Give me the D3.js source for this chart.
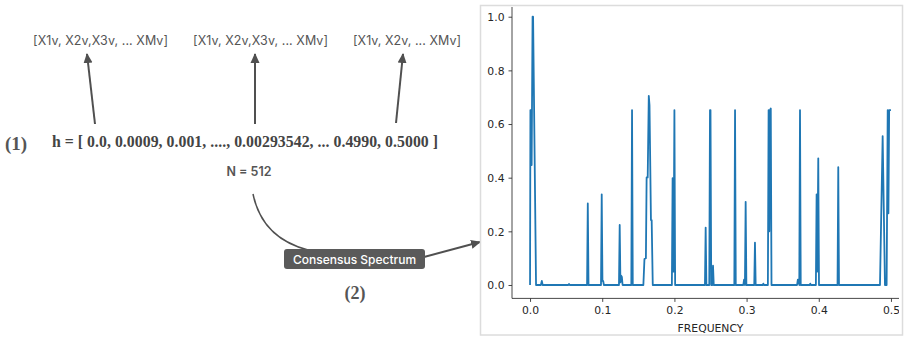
<!DOCTYPE html>
<html>
<head>
<meta charset="utf-8">
<script src="https://cdn.jsdelivr.net/npm/d3@7"></script>
<style>
  html, body { margin: 0; padding: 0; background: #fff; }
  svg { display: block; }
</style>
</head>
<body>
<div id="chart"></div>
<script>
// spectrum vertices (one group per line)
const freq = [
  0, 0.0005, 0.0015, 0.0022, 0.0035, 0.0042, 0.0083,
  0.015, 0.0163, 0.0175,
  0.053, 0.054, 0.055,
  0.079, 0.080, 0.081,
  0.0983, 0.0993, 0.1003, 0.1013, 0.1023,
  0.1232, 0.1242, 0.1252, 0.1262, 0.1272, 0.1282,
  0.1403, 0.1413, 0.1423,
  0.157, 0.1585, 0.1605, 0.1615, 0.163, 0.1645, 0.1655, 0.1675, 0.1685, 0.170,
  0.1965, 0.1975, 0.1988, 0.200, 0.201,
  0.2423, 0.2433, 0.2443, 0.2483, 0.2493, 0.250, 0.251, 0.2525, 0.2535, 0.2545,
  0.283, 0.284, 0.285,
  0.2955, 0.2965, 0.2977, 0.2987, 0.2997,
  0.3106, 0.3116, 0.3126,
  0.3225, 0.3232, 0.324,
  0.3295, 0.3305, 0.3315, 0.3325, 0.3335, 0.3345,
  0.370, 0.371, 0.3722, 0.373, 0.374, 0.375,
  0.3875, 0.3882, 0.389,
  0.396, 0.397, 0.398, 0.3993, 0.4003,
  0.426, 0.427, 0.428,
  0.4848, 0.4885, 0.4917, 0.494, 0.4955, 0.4965, 0.4975, 0.500
];
const amp = [
  0, 0.652, 0.652, 0.447, 1.0, 1.0, 0,
  0, 0.015, 0,
  0, 0.004, 0,
  0, 0.304, 0,
  0, 0.338, 0.015, 0.015, 0,
  0, 0.224, 0.01, 0.035, 0.03, 0,
  0, 0.652, 0,
  0, 0.097, 0.10, 0.401, 0.401, 0.705, 0.67, 0.242, 0.242, 0,
  0, 0.398, 0.05, 0.652, 0,
  0, 0.214, 0, 0, 0.652, 0.652, 0, 0, 0.072, 0,
  0, 0.652, 0,
  0, 0.02, 0, 0.31, 0,
  0, 0.158, 0,
  0, 0.005, 0,
  0, 0.652, 0.2, 0.652, 0.658, 0,
  0, 0.02, 0.02, 0, 0.652, 0,
  0, 0.005, 0,
  0, 0.338, 0.05, 0.472, 0,
  0, 0.439, 0,
  0, 0.555, 0, 0, 0.652, 0.267, 0.652, 0.652
];
const xTicks = [0, 0.1, 0.2, 0.3, 0.4, 0.5];
const yTicks = [0, 0.2, 0.4, 0.6, 0.8, 1.0];
const xLabel = 'FREQUENCY';

// diagram texts
const inputLabels = ['[X1v, X2v,X3v, ... XMv]', '[X1v, X2v,X3v, ... XMv]', '[X1v, X2v, ... XMv]'];
const hText = 'h = [ 0.0, 0.0009, 0.001, ...., 0.00293542, ... 0.4990, 0.5000 ]';
const nText = 'N = 512';
const boxText = 'Consensus Spectrum';

const width = 905;
const height = 338;

const svg = d3.select('#chart')
  .append('svg')
  .attr('width', width)
  .attr('height', height)
  .attr('viewBox', `0 0 ${width} ${height}`);

const defs = svg.append('defs');
defs.append('marker')
  .attr('id', 'head')
  .attr('viewBox', '0 0 10 10')
  .attr('refX', 9)
  .attr('refY', 5)
  .attr('markerUnits', 'userSpaceOnUse')
  .attr('markerWidth', 10)
  .attr('markerHeight', 10)
  .attr('orient', 'auto')
  .append('path')
  .attr('d', 'M0,0.5 L10,5 L0,9.5 Z')
  .attr('fill', '#505050');

defs.append('clipPath')
  .attr('id', 'plotclip')
  .append('rect')
  .attr('x', 481).attr('y', 7)
  .attr('width', 418).attr('height', 327);

// ---- left side diagram ----
const sans = 'Inter, "Noto Sans", sans-serif';
const serif = '"Liberation Serif", "DejaVu Serif", serif';

const labelX = [33, 193, 353];
const labelW = [135, 135, 108];
svg.append('g').selectAll('text')
  .data(inputLabels)
  .join('text')
  .attr('x', (d, i) => labelX[i])
  .attr('y', 45)
  .attr('textLength', (d, i) => labelW[i])
  .attr('lengthAdjust', 'spacing')
  .style('font-family', sans)
  .style('font-size', '12.5px')
  .style('fill', '#555')
  .text(d => d);

const upArrows = [[95, 124, 87, 54], [255, 124, 255, 54], [396, 123, 403, 54]];
svg.append('g').selectAll('line')
  .data(upArrows)
  .join('line')
  .attr('x1', d => d[0]).attr('y1', d => d[1])
  .attr('x2', d => d[2]).attr('y2', d => d[3])
  .attr('stroke', '#505050')
  .attr('stroke-width', 2)
  .attr('marker-end', 'url(#head)');

svg.append('text')
  .attr('x', 5).attr('y', 150)
  .style('font-family', serif)
  .style('font-weight', 'bold')
  .style('font-size', '19px')
  .style('fill', '#555')
  .text('(1)');

svg.append('text')
  .attr('x', 52).attr('y', 147)
  .attr('textLength', 386)
  .attr('lengthAdjust', 'spacing')
  .style('font-family', serif)
  .style('font-weight', 'bold')
  .style('font-size', '15.8px')
  .style('fill', '#444')
  .text(hText);

svg.append('text')
  .attr('x', 249).attr('y', 176)
  .attr('text-anchor', 'middle')
  .style('font-family', sans)
  .style('font-weight', 600)
  .style('font-size', '12.5px')
  .style('fill', '#555')
  .text(nText);

// curve from N to the box
svg.append('path')
  .attr('d', 'M253,194 Q262,238 308,250')
  .attr('fill', 'none')
  .attr('stroke', '#505050')
  .attr('stroke-width', 1.5);

svg.append('line')
  .attr('x1', 424).attr('y1', 257)
  .attr('x2', 480).attr('y2', 242)
  .attr('stroke', '#505050')
  .attr('stroke-width', 2)
  .attr('marker-end', 'url(#head)');

svg.append('rect')
  .attr('x', 284).attr('y', 249)
  .attr('width', 141).attr('height', 20)
  .attr('rx', 3)
  .attr('fill', '#5a5a5a');

svg.append('text')
  .attr('x', 354.5).attr('y', 263.5)
  .attr('text-anchor', 'middle')
  .style('font-family', sans)
  .style('font-weight', 500)
  .style('font-size', '12px')
  .style('fill', '#fff')
  .text(boxText);

svg.append('text')
  .attr('x', 355).attr('y', 299)
  .attr('text-anchor', 'middle')
  .style('font-family', serif)
  .style('font-weight', 'bold')
  .style('font-size', '18px')
  .style('fill', '#555')
  .text('(2)');

// ---- spectrum plot ----
svg.append('rect')
  .attr('x', 480.5).attr('y', 5.5)
  .attr('width', 422).attr('height', 329.5)
  .attr('fill', '#fff')
  .attr('stroke', '#dcdcdc')
  .attr('stroke-width', 1.5);

const x = d3.scaleLinear().domain([-0.025, 0.525]).range([512, 909]);
const y = d3.scaleLinear().domain([-0.05, 1.05]).range([298.4, 3.3]);

const plot = svg.append('g').attr('clip-path', 'url(#plotclip)');

const line = d3.line()
  .x(i => x(freq[i]))
  .y(i => y(amp[i]));

plot.append('path')
  .attr('d', line(d3.range(freq.length)))
  .attr('fill', 'none')
  .attr('stroke', '#1f77b4')
  .attr('stroke-width', 1.8)
  .attr('stroke-linejoin', 'round');

const tickFont = g => g.selectAll('text')
  .style('font-family', '"DejaVu Sans", sans-serif')
  .style('font-size', '10.8px')
  .style('fill', '#262626');

const xAxis = plot.append('g')
  .attr('transform', 'translate(0,298.4)')
  .call(d3.axisBottom(x).tickValues(xTicks).tickFormat(d3.format('.1f')).tickSize(3.5).tickPadding(4))
  .call(tickFont);

const yAxis = plot.append('g')
  .attr('transform', 'translate(512,0)')
  .call(d3.axisLeft(y).tickValues(yTicks).tickFormat(d3.format('.1f')).tickSize(3.5).tickPadding(4))
  .call(tickFont);

[xAxis, yAxis].forEach(a => {
  a.select('.domain').attr('stroke', '#333').attr('stroke-width', 0.9);
  a.selectAll('.tick line').attr('stroke', '#333').attr('stroke-width', 0.9);
});
yAxis.selectAll('text').attr('dy', '0.36em');
// spines without outer ticks
xAxis.select('.domain').attr('d', `M512,0H909`);
yAxis.select('.domain').attr('d', `M0,${y.range()[0]}V${y.range()[1]}`);

svg.append('text')
  .attr('x', (x.range()[0] + x.range()[1]) / 2)
  .attr('y', 332)
  .attr('text-anchor', 'middle')
  .style('font-family', '"DejaVu Sans", sans-serif')
  .style('font-size', '10.8px')
  .style('fill', '#262626')
  .text(xLabel);
</script>
</body>
</html>
